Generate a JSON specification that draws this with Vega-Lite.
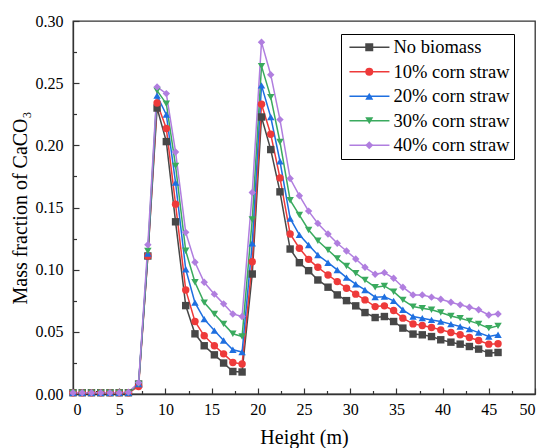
{
  "$schema": "https://vega.github.io/schema/vega-lite/v6.json",
  "width": 462,
  "height": 373,
  "autosize": {"type": "none"},
  "padding": {"left": 73, "top": 21, "right": 10, "bottom": 54},
  "config": {
    "font": "Liberation Serif",
    "view": {"stroke": "#333", "strokeWidth": 1.3},
    "axis": {"grid": false, "domainColor": "#333", "tickColor": "#333", "domainWidth": 1.3, "tickWidth": 1.2, "labelColor": "black", "titleColor": "black", "labelFont": "Liberation Serif", "titleFont": "Liberation Serif", "titleFontWeight": "normal", "labelFontSize": 16, "titleFontSize": 20}
  },
  "data": {
    "values": [
      {"h": 0, "No biomass": 0.001, "10% corn straw": 0.001, "20% corn straw": 0.001, "30% corn straw": 0.001, "40% corn straw": 0.001},
      {"h": 1, "No biomass": 0.001, "10% corn straw": 0.001, "20% corn straw": 0.001, "30% corn straw": 0.001, "40% corn straw": 0.001},
      {"h": 2, "No biomass": 0.001, "10% corn straw": 0.001, "20% corn straw": 0.001, "30% corn straw": 0.001, "40% corn straw": 0.001},
      {"h": 3, "No biomass": 0.001, "10% corn straw": 0.001, "20% corn straw": 0.001, "30% corn straw": 0.001, "40% corn straw": 0.001},
      {"h": 4, "No biomass": 0.001, "10% corn straw": 0.001, "20% corn straw": 0.001, "30% corn straw": 0.001, "40% corn straw": 0.001},
      {"h": 5, "No biomass": 0.001, "10% corn straw": 0.001, "20% corn straw": 0.001, "30% corn straw": 0.001, "40% corn straw": 0.001},
      {"h": 6, "No biomass": 0.001, "10% corn straw": 0.001, "20% corn straw": 0.001, "30% corn straw": 0.001, "40% corn straw": 0.0015},
      {"h": 7.1, "No biomass": 0.008, "10% corn straw": 0.006, "20% corn straw": 0.008, "30% corn straw": 0.008, "40% corn straw": 0.009},
      {"h": 8.1, "No biomass": 0.111, "10% corn straw": 0.111, "20% corn straw": 0.113, "30% corn straw": 0.115, "40% corn straw": 0.12},
      {"h": 9.1, "No biomass": 0.23, "10% corn straw": 0.234, "20% corn straw": 0.24, "30% corn straw": 0.244, "40% corn straw": 0.247},
      {"h": 10.1, "No biomass": 0.203, "10% corn straw": 0.2135, "20% corn straw": 0.2247, "30% corn straw": 0.2335, "40% corn straw": 0.2416},
      {"h": 11.1, "No biomass": 0.1385, "10% corn straw": 0.1527, "20% corn straw": 0.17, "30% corn straw": 0.1835, "40% corn straw": 0.1947},
      {"h": 12.2, "No biomass": 0.0711, "10% corn straw": 0.0837, "20% corn straw": 0.1003, "30% corn straw": 0.1152, "40% corn straw": 0.13},
      {"h": 13.2, "No biomass": 0.0484, "10% corn straw": 0.0583, "20% corn straw": 0.0735, "30% corn straw": 0.0899, "40% corn straw": 0.1059},
      {"h": 14.2, "No biomass": 0.0388, "10% corn straw": 0.0468, "20% corn straw": 0.0602, "30% corn straw": 0.0735, "40% corn straw": 0.0899},
      {"h": 15.3, "No biomass": 0.0315, "10% corn straw": 0.0388, "20% corn straw": 0.051, "30% corn straw": 0.0644, "40% corn straw": 0.0803},
      {"h": 16.3, "No biomass": 0.0249, "10% corn straw": 0.0323, "20% corn straw": 0.043, "30% corn straw": 0.0564, "40% corn straw": 0.0725},
      {"h": 17.3, "No biomass": 0.0181, "10% corn straw": 0.0254, "20% corn straw": 0.0356, "30% corn straw": 0.0484, "40% corn straw": 0.0644},
      {"h": 18.3, "No biomass": 0.0177, "10% corn straw": 0.0241, "20% corn straw": 0.0337, "30% corn straw": 0.0462, "40% corn straw": 0.0623},
      {"h": 19.4, "No biomass": 0.0965, "10% corn straw": 0.1064, "20% corn straw": 0.1212, "30% corn straw": 0.1404, "40% corn straw": 0.162},
      {"h": 20.4, "No biomass": 0.2228, "10% corn straw": 0.233, "20% corn straw": 0.2482, "30% corn straw": 0.2637, "40% corn straw": 0.283},
      {"h": 21.4, "No biomass": 0.1966, "10% corn straw": 0.2089, "20% corn straw": 0.2228, "30% corn straw": 0.2388, "40% corn straw": 0.2568},
      {"h": 22.4, "No biomass": 0.1626, "10% corn straw": 0.1738, "20% corn straw": 0.1872, "30% corn straw": 0.2027, "40% corn straw": 0.2207},
      {"h": 23.5, "No biomass": 0.1166, "10% corn straw": 0.1287, "20% corn straw": 0.1412, "30% corn straw": 0.1559, "40% corn straw": 0.1733},
      {"h": 24.5, "No biomass": 0.1056, "10% corn straw": 0.1172, "20% corn straw": 0.128, "30% corn straw": 0.1439, "40% corn straw": 0.1595},
      {"h": 25.5, "No biomass": 0.0992, "10% corn straw": 0.1083, "20% corn straw": 0.1198, "30% corn straw": 0.1319, "40% corn straw": 0.1471},
      {"h": 26.5, "No biomass": 0.0917, "10% corn straw": 0.1019, "20% corn straw": 0.1118, "30% corn straw": 0.1233, "40% corn straw": 0.1372},
      {"h": 27.6, "No biomass": 0.0859, "10% corn straw": 0.0957, "20% corn straw": 0.1056, "30% corn straw": 0.1158, "40% corn straw": 0.1287},
      {"h": 28.6, "No biomass": 0.0797, "10% corn straw": 0.0904, "20% corn straw": 0.0998, "30% corn straw": 0.1091, "40% corn straw": 0.1212},
      {"h": 29.6, "No biomass": 0.0751, "10% corn straw": 0.0851, "20% corn straw": 0.0936, "30% corn straw": 0.103, "40% corn straw": 0.115},
      {"h": 30.6, "No biomass": 0.0709, "10% corn straw": 0.0803, "20% corn straw": 0.0883, "30% corn straw": 0.0971, "40% corn straw": 0.1086},
      {"h": 31.6, "No biomass": 0.0655, "10% corn straw": 0.0757, "20% corn straw": 0.0837, "30% corn straw": 0.0917, "40% corn straw": 0.1019},
      {"h": 32.7, "No biomass": 0.0615, "10% corn straw": 0.0703, "20% corn straw": 0.0779, "30% corn straw": 0.0859, "40% corn straw": 0.0963},
      {"h": 33.7, "No biomass": 0.0623, "10% corn straw": 0.0709, "20% corn straw": 0.0783, "30% corn straw": 0.0869, "40% corn straw": 0.0976},
      {"h": 34.7, "No biomass": 0.0583, "10% corn straw": 0.0671, "20% corn straw": 0.0749, "30% corn straw": 0.0823, "40% corn straw": 0.0931},
      {"h": 35.7, "No biomass": 0.053, "10% corn straw": 0.061, "20% corn straw": 0.0677, "30% corn straw": 0.0757, "40% corn straw": 0.0859},
      {"h": 36.8, "No biomass": 0.0482, "10% corn straw": 0.0564, "20% corn straw": 0.0623, "30% corn straw": 0.0703, "40% corn straw": 0.0797},
      {"h": 37.8, "No biomass": 0.0476, "10% corn straw": 0.0551, "20% corn straw": 0.061, "30% corn straw": 0.069, "40% corn straw": 0.0797},
      {"h": 38.8, "No biomass": 0.0462, "10% corn straw": 0.0535, "20% corn straw": 0.0596, "30% corn straw": 0.0677, "40% corn straw": 0.0779},
      {"h": 39.8, "No biomass": 0.0436, "10% corn straw": 0.0516, "20% corn straw": 0.0583, "30% corn straw": 0.0655, "40% corn straw": 0.0762},
      {"h": 40.9, "No biomass": 0.0417, "10% corn straw": 0.0494, "20% corn straw": 0.0562, "30% corn straw": 0.0628, "40% corn straw": 0.0738},
      {"h": 41.9, "No biomass": 0.0401, "10% corn straw": 0.0476, "20% corn straw": 0.0543, "30% corn straw": 0.061, "40% corn straw": 0.0717},
      {"h": 42.9, "No biomass": 0.0382, "10% corn straw": 0.0454, "20% corn straw": 0.0522, "30% corn straw": 0.0588, "40% corn straw": 0.0698},
      {"h": 43.9, "No biomass": 0.0361, "10% corn straw": 0.043, "20% corn straw": 0.0494, "30% corn straw": 0.0564, "40% corn straw": 0.0677},
      {"h": 45.0, "No biomass": 0.0329, "10% corn straw": 0.0401, "20% corn straw": 0.0462, "30% corn straw": 0.053, "40% corn straw": 0.0636},
      {"h": 46.0, "No biomass": 0.0334, "10% corn straw": 0.0404, "20% corn straw": 0.0476, "30% corn straw": 0.0548, "40% corn straw": 0.0644}
    ]
  },
  "transform": [
    {"fold": ["No biomass", "10% corn straw", "20% corn straw", "30% corn straw", "40% corn straw"], "as": ["s", "v"]}
  ],
  "layer": [
    {
      "mark": {"type": "line", "strokeWidth": 1.5},
      "encoding": {
        "x": {"field": "h", "type": "quantitative", "scale": {"domain": [0, 50], "nice": false, "zero": false},
          "axis": {"values": [0, 5, 10, 15, 20, 25, 30, 35, 40, 45, 50], "tickSize": -6, "labelPadding": 13, "title": "Height (m)", "titlePadding": 10, "orient": "bottom"}},
        "y": {"field": "v", "type": "quantitative", "scale": {"domain": [0, 0.3], "nice": false},
          "axis": {"values": [0, 0.05, 0.1, 0.15, 0.2, 0.25, 0.3], "format": ".2f", "tickSize": -6, "labelPadding": 16, "title": "Mass fraction of CaCO₃", "titlePadding": 5, "orient": "left"}},
        "stroke": {"field": "s", "type": "nominal",
          "scale": {"domain": ["No biomass", "10% corn straw", "20% corn straw", "30% corn straw", "40% corn straw"], "range": ["#474747", "#EE3A3A", "#1E6FE0", "#3AAA5E", "#B07EDF"]},
          "legend": {"orient": "none", "legendX": 268, "legendY": 13, "title": null, "symbolType": "M-1.2,0H8.8", "symbolSize": 64, "symbolStrokeWidth": 1.5, "labelFontSize": 18.5, "labelFont": "Liberation Serif", "labelColor": "black", "labelOffset": 30, "padding": 4, "rowPadding": 5.5, "strokeColor": "black"}},
        "detail": {"field": "s"},
        "order": {"field": "h", "type": "quantitative"}
      }
    },
    {
      "mark": {"type": "point", "filled": true, "size": 55, "opacity": 1},
      "encoding": {
        "x": {"field": "h", "type": "quantitative",
          "axis": {"values": [2.5, 7.5, 12.5, 17.5, 22.5, 27.5, 32.5, 37.5, 42.5, 47.5], "tickSize": -3.5, "labels": false, "domain": false, "title": null, "orient": "bottom"}},
        "y": {"field": "v", "type": "quantitative",
          "axis": {"values": [0.025, 0.075, 0.125, 0.175, 0.225, 0.275], "tickSize": -3.5, "labels": false, "domain": false, "title": null, "orient": "left"}},
        "fill": {"field": "s", "type": "nominal",
          "scale": {"domain": ["No biomass", "10% corn straw", "20% corn straw", "30% corn straw", "40% corn straw"], "range": ["#474747", "#EE3A3A", "#1E6FE0", "#3AAA5E", "#B07EDF"]},
          "legend": {"orient": "none", "legendX": 268, "legendY": 13, "title": null, "symbolSize": 64, "symbolStrokeWidth": 1.5, "symbolStrokeColor": "transparent", "symbolOffset": 15, "labelFontSize": 18.5, "labelFont": "Liberation Serif", "labelExpr": "''", "labelOffset": 30, "padding": 4, "rowPadding": 5.5}},
        "shape": {"field": "s", "type": "nominal",
          "scale": {"domain": ["No biomass", "10% corn straw", "20% corn straw", "30% corn straw", "40% corn straw"], "range": ["square", "circle", "triangle-up", "triangle-down", "diamond"]},
          "legend": {"orient": "none", "legendX": 268, "legendY": 13, "title": null, "symbolSize": 64, "symbolStrokeWidth": 1.5, "symbolStrokeColor": "transparent", "symbolOffset": 15, "labelFontSize": 18.5, "labelFont": "Liberation Serif", "labelExpr": "''", "labelOffset": 30, "padding": 4, "rowPadding": 5.5}}
      }
    }
  ],
  "resolve": {"axis": {"x": "independent", "y": "independent"}, "legend": {"stroke": "independent", "fill": "independent", "shape": "independent"}}
}
